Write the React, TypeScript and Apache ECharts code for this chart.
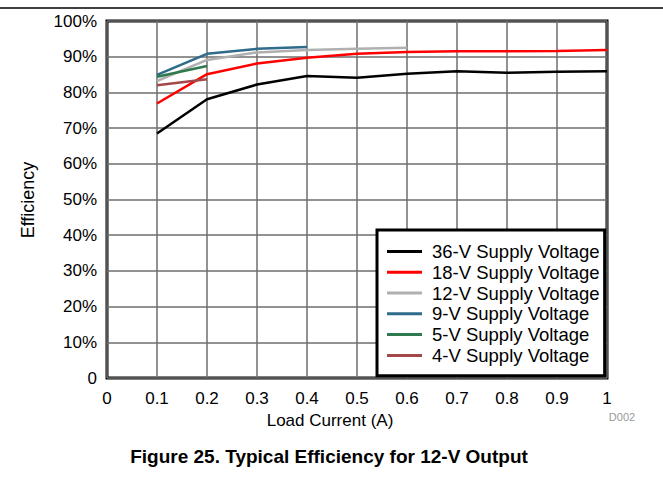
import React, { useEffect, useRef } from "react";
import * as echarts from "echarts";

const xValues = [0.1, 0.2, 0.3, 0.4, 0.5, 0.6, 0.7, 0.8, 0.9, 1.0];
const eff36V = [68.5, 78.1, 82.2, 84.6, 84.1, 85.2, 85.9, 85.5, 85.8, 85.9];
const eff18V = [76.9, 85.1, 88.1, 89.7, 90.8, 91.3, 91.5, 91.5, 91.6, 91.9];
const eff12V = [83.2, 89.1, 91.2, 91.9, 92.2, 92.5];
const eff9V = [84.9, 90.8, 92.2, 92.7];
const eff5V = [84.4, 87.4];
const eff4V = [82.0, 83.7];

const seriesNames = [
  "36-V Supply Voltage",
  "18-V Supply Voltage",
  "12-V Supply Voltage",
  "9-V Supply Voltage",
  "5-V Supply Voltage",
  "4-V Supply Voltage",
];
const seriesData = [eff36V, eff18V, eff12V, eff9V, eff5V, eff4V];
const seriesColors = ["#000000", "#ff0000", "#b0b0b0", "#2f6b8b", "#2e7a4e", "#a34848"];

const FONT = "'Liberation Sans', Arial, sans-serif";

export default function App() {
  const ref = useRef<HTMLDivElement>(null);
  useEffect(() => {
    document.body.style.margin = "0";
    if (!ref.current) return;
    const chart = echarts.init(ref.current, null, { renderer: "svg" });
    const series = seriesNames.map((name, i) => ({
      name,
      type: "line",
      data: seriesData[i].map((v, j) => [xValues[j], v]),
      showSymbol: false,
      symbol: "none",
      lineStyle: { color: seriesColors[i], width: 2.5 },
      itemStyle: { color: seriesColors[i] },
      z: 3,
    }));
    chart.setOption({
      animation: false,
      textStyle: { fontFamily: FONT },
      grid: {
        left: 107,
        right: 56,
        top: 21,
        bottom: 100,
        show: true,
        borderColor: "#000",
        borderWidth: 3,
        containLabel: false,
      },
      xAxis: {
        type: "value",
        min: 0,
        max: 1,
        interval: 0.1,
        axisLine: { show: false },
        axisTick: { show: false },
        splitLine: { show: true, lineStyle: { color: "#6e6e6e", width: 1.5 } },
        axisLabel: {
          color: "#000",
          fontSize: 17,
          fontFamily: FONT,
          margin: 12,
          formatter: (v: number) => String(Math.round(v * 10) / 10),
        },
      },
      yAxis: {
        type: "value",
        min: 0,
        max: 100,
        interval: 10,
        axisLine: { show: false },
        axisTick: { show: false },
        splitLine: { show: true, lineStyle: { color: "#6e6e6e", width: 1.5 } },
        axisLabel: {
          color: "#000",
          fontSize: 17,
          fontFamily: FONT,
          margin: 10,
          formatter: (v: number) => (v === 0 ? "0" : v + "%"),
        },
      },
      legend: {
        orient: "vertical",
        left: 377,
        top: 230,
        itemWidth: 35,
        itemHeight: 3,
        itemGap: 0,
        icon: "rect",
        padding: [11, 5, 10, 10],
        borderColor: "#000",
        borderWidth: 3,
        backgroundColor: "#fff",
        textStyle: {
          color: "#000",
          fontSize: 18.5,
          fontFamily: FONT,
          lineHeight: 20.8,
          padding: [0, 0, 0, 5],
        },
        data: seriesNames.map((n, i) => ({ name: n, itemStyle: { color: seriesColors[i] } })),
      },
      graphic: [
        {
          type: "line",
          shape: { x1: 0, y1: 8, x2: 663, y2: 8 },
          style: { stroke: "#000", lineWidth: 1.5 },
        },
        {
          type: "text",
          x: 28,
          y: 200,
          rotation: Math.PI / 2,
          style: {
            text: "Efficiency",
            fill: "#000",
            font: `18px ${FONT}`,
            textAlign: "center",
            textVerticalAlign: "middle",
          },
        },
        {
          type: "text",
          x: 330,
          y: 420,
          style: {
            text: "Load Current (A)",
            fill: "#000",
            font: `17px ${FONT}`,
            textAlign: "center",
            textVerticalAlign: "middle",
          },
        },
        {
          type: "text",
          x: 622,
          y: 417,
          style: {
            text: "D002",
            fill: "#999",
            font: `11px ${FONT}`,
            textAlign: "center",
            textVerticalAlign: "middle",
          },
        },
        {
          type: "text",
          x: 329,
          y: 456,
          style: {
            text: "Figure 25. Typical Efficiency for 12-V Output",
            fill: "#000",
            font: `bold 19px ${FONT}`,
            textAlign: "center",
            textVerticalAlign: "middle",
          },
        },
      ],
      series,
    });
    return () => chart.dispose();
  }, []);
  return <div ref={ref} style={{ width: 663, height: 478 }} />;
}
